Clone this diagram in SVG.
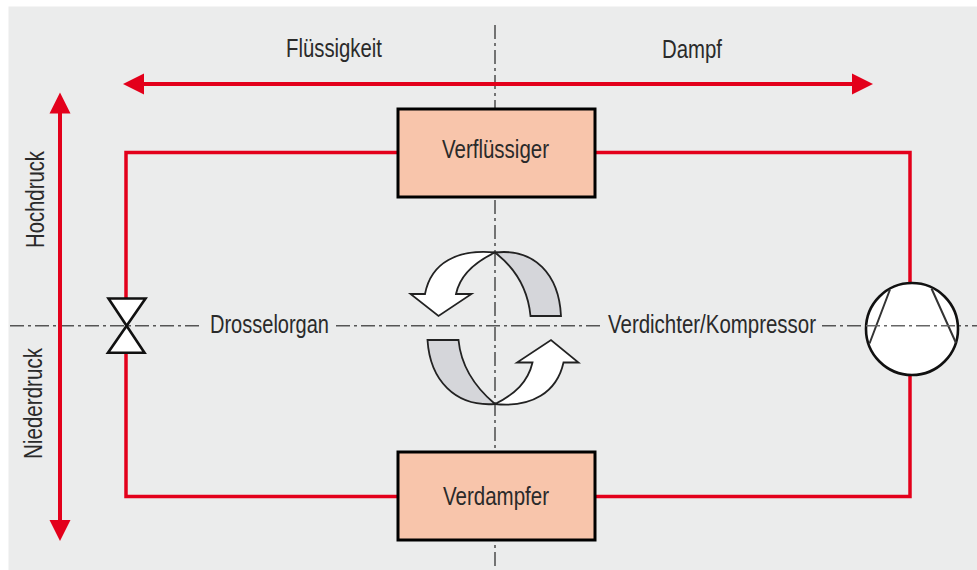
<svg xmlns="http://www.w3.org/2000/svg" width="977" height="570" viewBox="0 0 977 570">
<style>
text{font-family:"Liberation Sans",Arial,sans-serif;font-size:25px;fill:#2a2a2a}
.axis{fill:none;stroke:#555;stroke-width:1.6;stroke-dasharray:14 4 3 4}
.pipe{fill:none;stroke:#e3001b;stroke-width:3.5}
.dim{fill:none;stroke:#e3001b;stroke-width:4}
.head{fill:#e3001b}
.box{fill:#f8c5ab;stroke:#000;stroke-width:3}
.sym{fill:#fff;stroke:#111;stroke-width:2.6;stroke-linejoin:miter}
.blade{fill:none;stroke:#333;stroke-width:2}
.w{fill:#fff;stroke:#222;stroke-width:1.8;stroke-linejoin:miter}
.g{fill:#d5d6da;stroke:#222;stroke-width:1.8;stroke-linejoin:miter}
</style>
<rect x="8.500" y="6.500" width="969" height="564" fill="#ebecec"/>
<g id="axes">
<path class="axis" d="M495 25V252"/>
<path class="axis" d="M495 252V570"/>
<path class="axis" d="M10 325.700H200"/>
<path class="axis" d="M336 325.700H600"/>
<path class="axis" d="M822 325.700H977"/>
</g>
<g id="connectors">
<path class="pipe" d="M398 152.500H126V298"/>
<path class="pipe" d="M595 152.500H910V284"/>
<path class="pipe" d="M126 353V496.500H398"/>
<path class="pipe" d="M595 496.500H910V375"/>
<path class="dim" d="M142 84H852"/>
<polygon class="head" points="123,84 144,73.500 144,94.500"/>
<polygon class="head" points="873,84 852,73.500 852,94.500"/>
<path class="dim" d="M60 112V522"/>
<polygon class="head" points="60,92.500 49.500,113.500 70.500,113.500"/>
<polygon class="head" points="60,541 49.500,520 70.500,520"/>
</g>
<g id="verfluessiger">
<rect class="box" x="398" y="109" width="197" height="88"/>
<text x="442" y="158" textLength="107" lengthAdjust="spacingAndGlyphs">Verflüssiger</text>
</g>
<g id="verdampfer">
<rect class="box" x="398" y="452" width="197" height="88"/>
<text x="443" y="505" textLength="106" lengthAdjust="spacingAndGlyphs">Verdampfer</text>
</g>
<g id="drosselorgan">
<path class="sym" d="M108.500 298.500H145.500L108 352.700H144.500Z"/>
<text x="210" y="333" textLength="119" lengthAdjust="spacingAndGlyphs">Drosselorgan</text>
</g>
<g id="kompressor">
<circle class="sym" cx="912" cy="329" r="46"/>
<path class="blade" d="M890 289.500L869.500 343.500M931.500 288.500L956 343"/>
<path d="M866 325.700H958" fill="none" stroke="#666" stroke-width="1.600" stroke-dasharray="14 4 3 4"/>
<text x="608" y="333" textLength="208" lengthAdjust="spacingAndGlyphs">Verdichter/Kompressor</text>
</g>
<g id="cycle">
<path class="g" d="M495 252.500C535 248 559 275 561 316H530.500C528 290 515 268 495 252.500Z"/>
<path class="w" d="M495 252.500C458 249 431 262 425 294H410.500L438.500 316L471.500 294H456C460 275 475 262 495 252.500Z"/>
<path class="g" d="M495 404C455 407 430 380 427.500 340H458.500C461 366 476 388 495 404Z"/>
<path class="w" d="M495 404C532 408 557 392 563.500 362.500H578.500L551 340L517 362.500H532.500C528 382 515 394 495 404Z"/>
</g>
<g id="labels">
<text x="286" y="57" textLength="96" lengthAdjust="spacingAndGlyphs">Flüssigkeit</text>
<text x="662" y="58" textLength="60" lengthAdjust="spacingAndGlyphs">Dampf</text>
<text transform="translate(44 248) rotate(-90)" textLength="97" lengthAdjust="spacingAndGlyphs">Hochdruck</text>
<text transform="translate(42 459) rotate(-90)" textLength="111" lengthAdjust="spacingAndGlyphs">Niederdruck</text>
</g>
</svg>
